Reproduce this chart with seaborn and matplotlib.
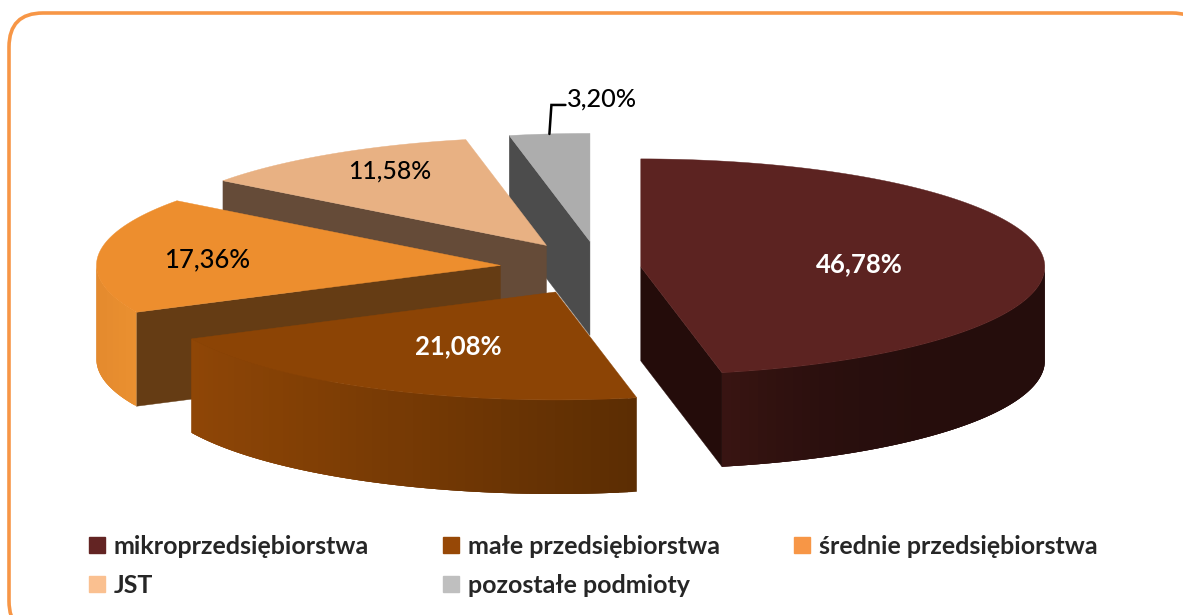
import numpy as np
import matplotlib
matplotlib.use("Agg")
import matplotlib.pyplot as plt
import seaborn as sns
from matplotlib.patches import FancyBboxPatch, Patch

categories = ['mikroprzedsiębiorstwa', 'małe przedsiębiorstwa', 'średnie przedsiębiorstwa', 'JST', 'pozostałe podmioty']
values = [46.78, 21.08, 17.36, 11.58, 3.20]

top_colors = ['#5c2321', '#8c4405', '#ed8e2e', '#e8b183', '#adadad']
face_colors = ['#240c0a', '#8c4405', '#653c14', '#654b38', '#4c4c4c']
wall_left = ['#3a1512', '#8f4606', '#e48a2e', '#654b38', '#4c4c4c']
wall_right = ['#250d0c', '#5c2d03', '#ea9030', '#654b38', '#4c4c4c']
wall_gamma = [3, 1, 1, 1, 1]
legend_colors = ['#632423', '#974806', '#f79646', '#fac090', '#bfbfbf']
text_colors = ['white', 'white', 'black', 'black', 'black']

# pie geometry, in pixels of the picture
cx, cy = 600, 268
rx, ry = 404, 108
depth = 94
explode = [41, 100, 100, 100, 100]
label_r = [0.545, 0.54, 0.73, 0.725, None]
label_dy = [3, 2, 2, -8, 0]


def pt(ox, oy, theta, r=1.0):
    t = np.radians(theta)
    return ox + rx * r * np.sin(t), oy - ry * r * np.cos(t)


def mix(c1, c2, f):
    a = np.array(matplotlib.colors.to_rgb(c1))
    b = np.array(matplotlib.colors.to_rgb(c2))
    return tuple(a + (b - a) * f)


def draw_slice(ax, i, start, end):
    mid = (start + end) / 2
    t = np.radians(mid)
    ox = cx + explode[i] * np.sin(t)
    oy = cy - explode[i] * (ry / rx) * np.cos(t)

    # cut faces that look towards the viewer
    for theta, front in [(start, np.sin(np.radians(start)) < 0), (end, np.sin(np.radians(end)) > 0)]:
        if front:
            x, y = pt(ox, oy, theta)
            ax.fill([ox, x, x, ox], [oy, y, y + depth, oy + depth], color=face_colors[i], lw=0.3)

    # outer wall, front half of the rim, strips overlap the next one so no seams show
    a0, a1 = max(start, 90), min(end, 270)
    if a1 > a0:
        steps = np.linspace(a0, a1, 60)
        x_right = pt(ox, oy, a0)[0]
        x_left = pt(ox, oy, a1)[0]
        if a0 == 90 or a1 == 270:
            x_right, x_left = max(x_right, pt(ox, oy, a1)[0]), min(x_left, pt(ox, oy, a0)[0])
        for j in range(len(steps) - 1):
            a = steps[j]
            b = steps[min(j + 3, len(steps) - 1)]
            arc = np.linspace(a, b, 6)
            xs, ys = pt(ox, oy, arc)
            f = (x_right - xs[0]) / (x_right - x_left)
            ax.fill(np.r_[xs, xs[::-1]], np.r_[ys, ys[::-1] + depth],
                    color=mix(wall_right[i], wall_left[i], f ** wall_gamma[i]), lw=0)

    # top
    arc = np.linspace(start, end, 120)
    xs, ys = pt(ox, oy, arc)
    ax.fill(np.r_[ox, xs], np.r_[oy, ys], color=top_colors[i], lw=0.3)
    return ox, oy, mid


sns.set_theme(style='white')
plt.rcParams['font.family'] = ['Lato', 'DejaVu Sans']

fig = plt.figure(figsize=(11.83, 6.15), dpi=100)
ax = fig.add_axes([0, 0, 1, 1])
ax.set_xlim(0, 1183)
ax.set_ylim(615, 0)
ax.axis('off')

border = FancyBboxPatch((9, 13), 1197, 622, boxstyle='round,pad=0,rounding_size=34',
                        fc='white', ec='#f79646', lw=2.6)
ax.add_patch(border)

edges = np.r_[0, np.cumsum(values)] / 100 * 360
edges[-1] = 360
centers = {}
for i in [4, 3, 2, 1, 0]:
    centers[i] = draw_slice(ax, i, edges[i], edges[i + 1])

for i, v in enumerate(values):
    txt = f'{v:.2f}%'.replace('.', ',')
    if label_r[i] is None:
        continue
    ox, oy, mid = centers[i]
    x, y = pt(ox, oy, mid, label_r[i])
    ax.text(x, y + label_dy[i], txt, color=text_colors[i], fontsize=17.8 if i == 3 else 18.5,
            ha='center', va='center',
            fontweight='bold' if text_colors[i] == 'white' else 'medium')

# small slice has its label outside, on a leader line
ox, oy, mid = centers[4]
top_x, top_y = pt(ox, oy, mid)
ax.plot([top_x, top_x + 2, top_x + 16], [top_y, top_y - 29, top_y - 29],
        color='black', lw=1.8, solid_joinstyle='miter')
ax.text(top_x + 18, top_y - 35, f'{values[4]:.2f}%'.replace('.', ','), fontsize=18.2,
        ha='left', va='center', color='black', fontweight='medium')

order = [0, 3, 1, 4, 2]
handles = [Patch(color=legend_colors[i], label=categories[i]) for i in order]
ax.legend(handles=handles, ncol=3, frameon=False, loc='upper left',
          bbox_to_anchor=(89, 535), bbox_transform=ax.transData,
          handlelength=0.64, handleheight=0.64, handletextpad=0.36, columnspacing=2.95,
          labelspacing=0.64, borderpad=0, borderaxespad=0,
          prop={'size': 18, 'weight': 'bold', 'family': ['Lato', 'DejaVu Sans']})

fig.savefig('out.png', dpi=100)
